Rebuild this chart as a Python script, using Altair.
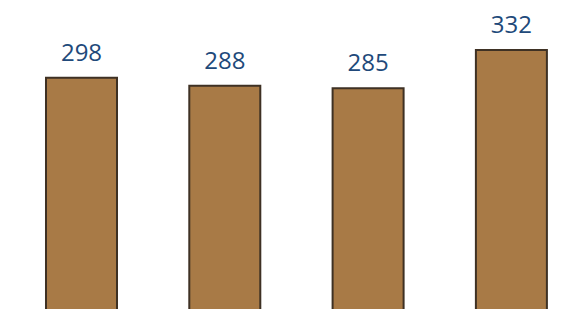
import altair as alt
import pandas as pd

categories = ["A", "B", "C", "D"]
values = [298, 288, 285, 332]

df = pd.DataFrame({"cat": categories, "value": values})

x = alt.X("cat:N", sort=categories, axis=None,
          scale=alt.Scale(paddingInner=0.5045, paddingOuter=0.2027, align=0.654))
y = alt.Y("value:Q", axis=None, scale=alt.Scale(domain=[0, 384], nice=False, zero=True))

base = alt.Chart(df).encode(x=x, y=y)

bars = base.mark_bar(color="#A87A46", stroke="#3E3124", strokeWidth=2)
labels = base.mark_text(baseline="alphabetic", dy=-17, font="Open Sans",
                        fontSize=24, fontWeight=500, color="#21497A").encode(text="value:Q")

chart = (bars + labels).properties(
    width=559, height=311, padding=0,
    autosize=alt.AutoSizeParams(type="none")
).configure_view(stroke=None)

chart.save("out.html", embed_options={"renderer": "svg", "actions": False})
